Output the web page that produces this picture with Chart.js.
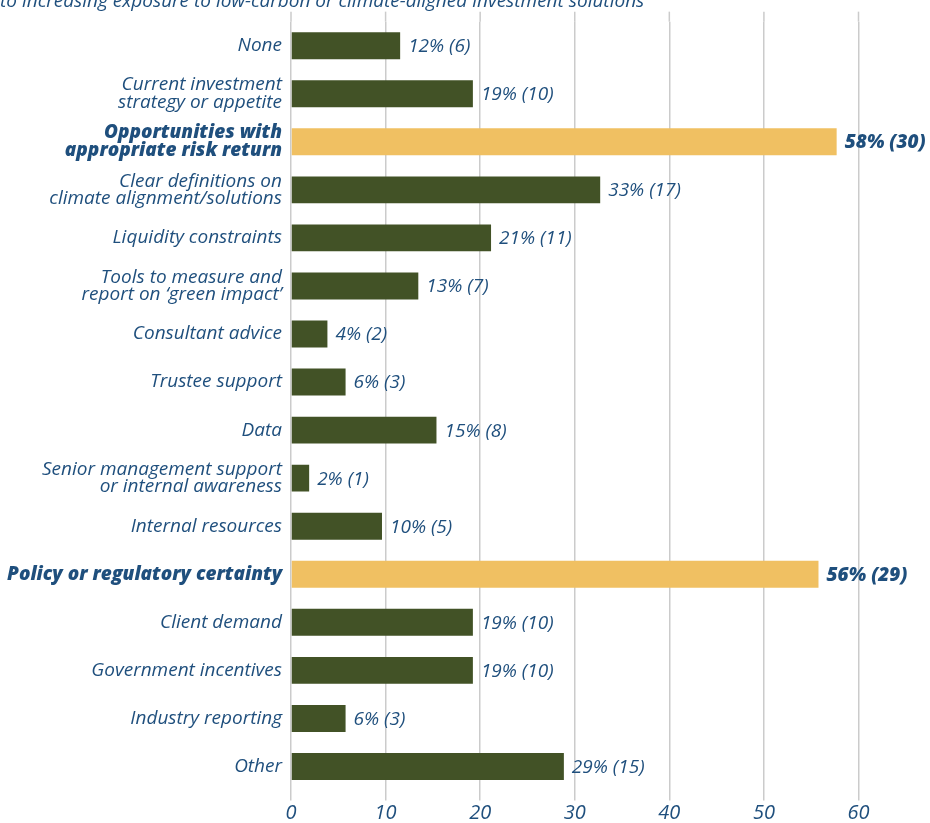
<!DOCTYPE html>
<html>
    <head>
        <meta charset="UTF-8"/>
        <title>Enablers</title>
        <script src="https://cdn.jsdelivr.net/npm/chart.js@4.4.1/dist/chart.umd.min.js"></script>
        <style>
            body{margin:0;overflow:hidden;background:#fff;}
            #chart{position:absolute;left:0;top:-12px;}
        </style>
    </head>
    <body>
        <canvas id="chart" width="930" height="835"></canvas>
        <script>
            const categories=[
                'None',
                ['Current investment','strategy or appetite'],
                ['Opportunities with','appropriate risk return'],
                ['Clear definitions on','climate alignment/solutions'],
                'Liquidity constraints',
                ['Tools to measure and','report on \u2018green impact\u2019'],
                'Consultant advice',
                'Trustee support',
                'Data',
                ['Senior management support','or internal awareness'],
                'Internal resources',
                'Policy or regulatory certainty',
                'Client demand',
                'Government incentives',
                'Industry reporting',
                'Other'
            ];
            // share of respondents (%) and number of respondents
            const percents=[11.54,19.23,57.69,32.69,21.15,13.46,3.85,5.77,15.38,1.92,9.62,55.77,19.23,19.23,5.77,28.85];
            const counts=[6,10,30,17,11,7,2,3,8,1,5,29,10,10,3,15];
            const highlighted=[false,false,true,false,false,false,false,false,false,false,false,true,false,false,false,false];
            const xTicks=[0,10,20,30,40,50,60];

            const FONT='"Open Sans", sans-serif';
            const BLUE='#1f4f7d';
            const GREEN='#425226';
            const GOLD='#f0c062';
            const GRID='#cbcbcb';

            // value labels at the end of each bar
            const barLabels={
                id:'barLabels',
                afterDatasetsDraw(chart){
                    const ctx=chart.ctx;
                    const meta=chart.getDatasetMeta(0);
                    ctx.save();
                    ctx.fillStyle=BLUE;
                    ctx.textBaseline='middle';
                    ctx.textAlign='left';
                    meta.data.forEach((bar,i)=>{
                        ctx.font=(highlighted[i]?'italic 800 ':'italic 400 ')+'19px '+FONT;
                        const txt=Math.round(percents[i])+'% ('+counts[i]+')';
                        ctx.fillText(txt,bar.x+8,bar.y+1);
                    });
                    ctx.restore();
                }
            };

            // gridlines run a little above the plot area
            const gridTop={
                id:'gridTop',
                beforeDatasetsDraw(chart){
                    const ctx=chart.ctx;
                    const xs=chart.scales.x;
                    const top=chart.chartArea.top;
                    ctx.save();
                    ctx.strokeStyle=GRID;
                    ctx.lineWidth=1.5;
                    xs.ticks.forEach(t=>{
                        const px=xs.getPixelForValue(t.value);
                        ctx.beginPath();
                        ctx.moveTo(px,top-10);
                        ctx.lineTo(px,top);
                        ctx.stroke();
                    });
                    ctx.restore();
                }
            };

            const ctx=document.getElementById('chart').getContext('2d');
            const myChart=new Chart(ctx,{
                type:'bar',
                data:{
                    labels:categories,
                    datasets:[{
                        data:percents,
                        backgroundColor:highlighted.map(h=>h?GOLD:GREEN),
                        barPercentage:0.56,
                        categoryPercentage:1
                    }]
                },
                options:{
                    indexAxis:'y',
                    responsive:false,
                    animation:false,
                    layout:{padding:{left:0,right:71.5,top:0,bottom:0}},
                    plugins:{
                        legend:{display:false},
                        tooltip:{enabled:false},
                        title:{
                            display:true,
                            text:'to increasing exposure to low-carbon or climate-aligned investment solutions',
                            align:'start',
                            color:BLUE,
                            font:{family:FONT,size:19,style:'italic',weight:'normal',lineHeight:1.14},
                            padding:{top:3,bottom:9}
                        }
                    },
                    scales:{
                        x:{
                            min:0,
                            max:60,
                            afterBuildTicks(s){s.ticks=xTicks.map(v=>({value:v}));},
                            afterFit(s){s.height=32.5;},
                            border:{display:false},
                            grid:{color:GRID,lineWidth:1.5,tickLength:10,tickColor:GRID},
                            ticks:{
                                color:BLUE,
                                padding:1,
                                font:{family:FONT,size:20,style:'italic'}
                            }
                        },
                        y:{
                            afterFit(s){s.width=291;},
                            border:{display:false},
                            grid:{display:false,drawTicks:false},
                            ticks:{
                                color:BLUE,
                                padding:9,
                                autoSkip:false,
                                font:c=>({
                                    family:FONT,
                                    size:19,
                                    style:'italic',
                                    weight:highlighted[c.index]?'800':'normal',
                                    lineHeight:0.92
                                })
                            }
                        }
                    }
                },
                plugins:[barLabels,gridTop]
            });
        </script>
    </body>
</html>
